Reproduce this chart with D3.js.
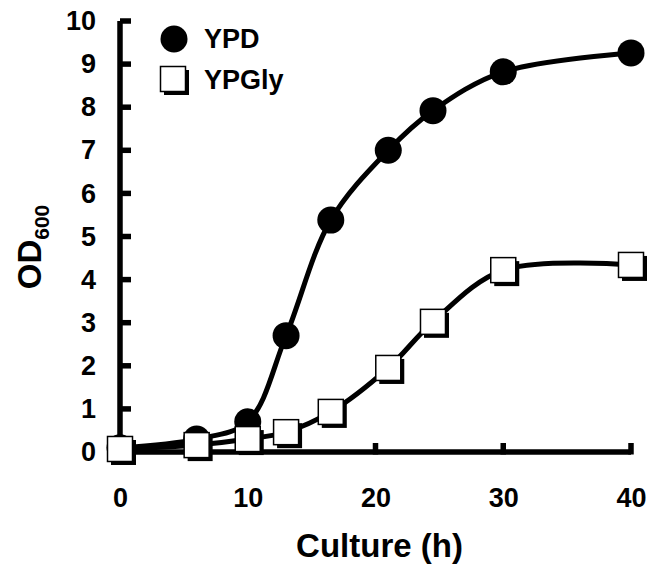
<!DOCTYPE html>
<html>
<head>
<meta charset="utf-8">
<script src="https://cdn.jsdelivr.net/npm/d3@7"></script>
<style>
    body { margin: 0; background: #fff; }
    svg { display: block; font-family: "Liberation Sans", Arial, sans-serif; font-weight: bold; }
</style>
</head>
<body>
<div id="chart"></div>
<script>
"use strict";

// data
const ypdTime = [0, 6, 10, 13, 16.5, 21, 24.5, 30, 40];
const ypdOD = [0.1, 0.3, 0.7, 2.7, 5.38, 7.0, 7.92, 8.82, 9.26];
const glyTime = [0, 6, 10, 13, 16.5, 21, 24.5, 30, 40];
const glyOD = [0.07, 0.16, 0.3, 0.46, 0.93, 1.95, 3.02, 4.22, 4.34];
const xTicks = [0, 10, 20, 30, 40];
const yTicks = [0, 1, 2, 3, 4, 5, 6, 7, 8, 9, 10];
const seriesNames = ["YPD", "YPGly"];

(function () {
    const width = 648;
    const height = 565;

    const x = d3.scaleLinear().domain([0, 40]).range([120, 631]);
    const y = d3.scaleLinear().domain([0, 10]).range([452, 21]);

    const svg = d3.select("#chart")
        .append("svg")
        .attr("width", width)
        .attr("height", height);

    // tick labels through d3 axes, heavy lines drawn by hand below
    const gx = svg.append("g")
        .attr("transform", `translate(0,${y(0)})`)
        .call(d3.axisBottom(x).tickValues(xTicks).tickSize(0).tickPadding(36));

    const gy = svg.append("g")
        .attr("transform", `translate(${x(0)},0)`)
        .call(d3.axisLeft(y).tickValues(yTicks).tickSize(0).tickPadding(24));

    for (let g of [gx, gy]) {
        g.select(".domain").remove();
        g.selectAll(".tick line").remove();
        g.selectAll(".tick text")
            .style("fill", "#000")
            .style("font-family", "'Liberation Sans', Arial, sans-serif")
            .style("font-weight", "bold")
            .style("font-size", "27px");
    }

    const axisLines = svg.append("g")
        .attr("stroke", "#000")
        .attr("stroke-width", 5.5);

    axisLines.append("line")
        .attr("x1", x(0)).attr("x2", x(0))
        .attr("y1", y(0) + 2.5).attr("y2", y(10));
    axisLines.append("line")
        .attr("x1", x(0) - 2.5).attr("x2", x(40))
        .attr("y1", y(0)).attr("y2", y(0));

    axisLines.selectAll("line.ytick")
        .data(yTicks.filter(d => d > 0))
        .enter()
        .append("line")
        .attr("class", "ytick")
        .attr("x1", x(0)).attr("x2", x(0) + 11)
        .attr("y1", d => y(d)).attr("y2", d => y(d));

    axisLines.selectAll("line.xtick")
        .data(xTicks.filter(d => d > 0))
        .enter()
        .append("line")
        .attr("class", "xtick")
        .attr("x1", d => x(d)).attr("x2", d => x(d))
        .attr("y1", y(0) + 2.5).attr("y2", y(0) - 9);

    // axis titles
    svg.append("text")
        .attr("x", (x(0) + x(40)) / 2 + 4)
        .attr("y", 557)
        .attr("text-anchor", "middle")
        .style("font-size", "33px")
        .text("Culture (h)");

    const yTitle = svg.append("text")
        .attr("transform", "translate(41,247) rotate(-90)")
        .attr("text-anchor", "middle")
        .style("font-size", "33px");
    yTitle.append("tspan").text("OD");
    yTitle.append("tspan")
        .attr("dy", 8)
        .style("font-size", "21px")
        .text("600");

    const line = d3.line()
        .x(d => x(d[0]))
        .y(d => y(d[1]))
        .curve(d3.curveCatmullRom.alpha(0.5));

    const ypd = ypdTime.map((t, i) => [t, ypdOD[i]]);
    const gly = glyTime.map((t, i) => [t, glyOD[i]]);

    // YPD: line then filled circles
    svg.append("path")
        .datum(ypd)
        .attr("d", line)
        .attr("fill", "none")
        .attr("stroke", "#000")
        .attr("stroke-width", 5);

    svg.append("g").selectAll("circle")
        .data(ypd)
        .enter()
        .append("circle")
        .attr("cx", d => x(d[0]))
        .attr("cy", d => y(d[1]))
        .attr("r", 13.5)
        .attr("fill", "#000");

    // YPGly: line then open squares with a drop shadow
    svg.append("path")
        .datum(gly)
        .attr("d", line)
        .attr("fill", "none")
        .attr("stroke", "#000")
        .attr("stroke-width", 5);

    const sq = 25;
    function drawSquare(g, cx, cy) {
        g.append("rect")
            .attr("x", cx - sq / 2 + 3.5)
            .attr("y", cy - sq / 2 + 3.5)
            .attr("width", sq)
            .attr("height", sq)
            .attr("fill", "#000");
        g.append("rect")
            .attr("x", cx - sq / 2)
            .attr("y", cy - sq / 2)
            .attr("width", sq)
            .attr("height", sq)
            .attr("fill", "#fff")
            .attr("stroke", "#000")
            .attr("stroke-width", 1.5);
    }

    const squares = svg.append("g");
    for (let d of gly) {
        drawSquare(squares, x(d[0]), y(d[1]));
    }

    // legend
    const legend = svg.append("g");
    legend.append("circle")
        .attr("cx", 174)
        .attr("cy", 39)
        .attr("r", 13.5)
        .attr("fill", "#000");
    legend.append("text")
        .attr("x", 204)
        .attr("y", 48)
        .style("font-size", "27px")
        .text(seriesNames[0]);
    drawSquare(legend, 173, 79);
    legend.append("text")
        .attr("x", 204)
        .attr("y", 89)
        .style("font-size", "27px")
        .text(seriesNames[1]);
})();
</script>
</body>
</html>
